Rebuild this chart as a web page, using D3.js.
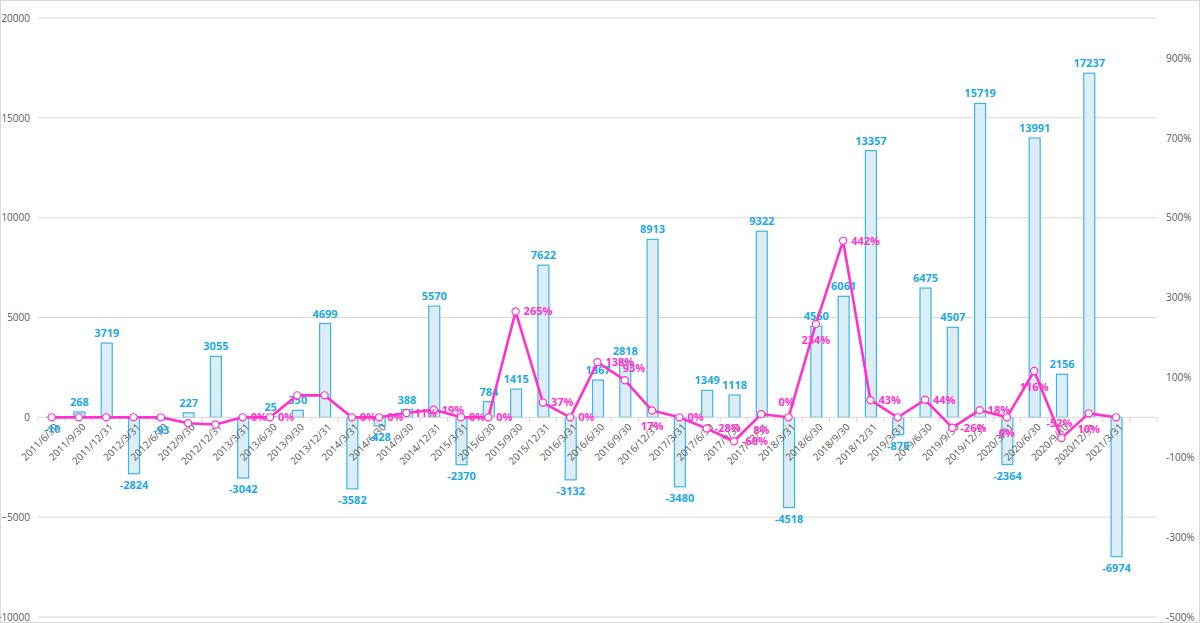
<!DOCTYPE html>
<html><head><meta charset="utf-8">
<script src="https://cdn.jsdelivr.net/npm/d3@7"></script>
<style>html,body{margin:0;padding:0;background:#fff;}svg{display:block;font-family:"Open Sans","Noto Sans",sans-serif;}</style>
</head><body><svg id="c" width="1200" height="623"></svg>
<script>
const categories = ["2011/6/30","2011/9/30","2011/12/31","2012/3/31","2012/6/30","2012/9/30","2012/12/31","2013/3/31","2013/6/30","2013/9/30","2013/12/31","2014/3/31","2014/6/30","2014/9/30","2014/12/31","2015/3/31","2015/6/30","2015/9/30","2015/12/31","2016/3/31","2016/6/30","2016/9/30","2016/12/31","2017/3/31","2017/6/30","2017/9/30","2017/12/31","2018/3/31","2018/6/30","2018/9/30","2018/12/31","2019/3/31","2019/6/30","2019/9/30","2019/12/31","2020/3/31","2020/6/30","2020/9/30","2020/12/31","2021/3/31"];
const barValues = [-10,268,3719,-2824,-93,227,3055,-3042,25,350,4699,-3582,-428,388,5570,-2370,784,1415,7622,-3132,1867,2818,8913,-3480,1349,1118,9322,-4518,4560,6061,13357,-875,6475,4507,15719,-2364,13991,2156,17237,-6974];
const pctValues = [0,0,0,0,0,-15,-18,0,0,55,55,0,0,11,19,0,0,265,37,0,138,93,17,0,-28,-60,8,0,234,442,43,0,44,-26,18,0,116,-52,10,0];
// which percentage labels are shown, and where they sit relative to the point
const pctLabelPos = {7:"r",8:"r",11:"r",12:"r",13:"r",14:"r",15:"r",16:"r",17:"r",18:"r",19:"r",20:"r",21:"ur",22:"b",23:"r",24:"r",25:"r",26:"b",27:"t",28:"b",29:"r",30:"r",32:"r",33:"r",34:"r",35:"b",36:"b",37:"t",38:"b"};
const leftTicks = [-10000,-5000,0,5000,10000,15000,20000];
const rightTicks = [-500,-300,-100,100,300,500,700,900];

const svg = d3.select("#c");
const W = 1200, H = 623;
const plot = {left:38, right:1157, top:18, bottom:617};

svg.append("rect").attr("x",0.5).attr("y",0.5).attr("width",W-1).attr("height",H-1)
  .attr("fill","#fff").attr("stroke","#d9d9d9");

const x = d3.scaleBand().domain(categories.concat(["__pad"])).range([plot.left, plot.right]).padding(0);
const y = d3.scaleLinear().domain([-10000,20000]).range([plot.bottom, plot.top]);
const y2 = d3.scaleLinear().domain([-500,1000]).range([plot.bottom, plot.top]);
const cx = c => x(c) + x.bandwidth()/2;

// gridlines
svg.append("g").selectAll("line").data(leftTicks.filter(t=>t!==0)).join("line")
  .attr("x1",plot.left).attr("x2",plot.right).attr("y1",d=>y(d)).attr("y2",d=>y(d))
  .attr("stroke","#d9d9d9").attr("stroke-width",1);

// left axis
const gl = svg.append("g").attr("transform",`translate(${plot.left},0)`)
  .call(d3.axisLeft(y).tickValues(leftTicks).tickSize(0).tickPadding(8).tickFormat(d3.format("d")));
gl.select(".domain").remove();
gl.selectAll("text").attr("fill","#595959").style("font-size","10px").attr("font-family","'Open Sans',sans-serif");

// right axis
const gr = svg.append("g").attr("transform",`translate(${plot.right},0)`)
  .call(d3.axisRight(y2).tickValues(rightTicks).tickSize(0).tickPadding(9).tickFormat(d=>d+"%"));
gr.select(".domain").remove();
gr.selectAll("text").attr("fill","#595959").style("font-size","10px").attr("font-family","'Open Sans',sans-serif");

// bars
const bw = 11;
svg.append("g").selectAll("rect").data(categories).join("rect")
  .attr("x",(c)=>cx(c)-bw/2+0.5).attr("width",bw)
  .attr("y",(c,i)=>Math.min(y(barValues[i]),y(0)))
  .attr("height",(c,i)=>Math.abs(y(barValues[i])-y(0)))
  .attr("fill","#dcedf5").attr("stroke","#3bb6ea").attr("stroke-width",1.2);

// x axis line and ticks
svg.append("line").attr("x1",plot.left).attr("x2",plot.right).attr("y1",y(0)).attr("y2",y(0)).attr("stroke","#d9d9d9");
svg.append("g").selectAll("line").data(categories.concat(["__pad"])).join("line")
  .attr("x1",c=>x(c)).attr("x2",c=>x(c)).attr("y1",y(0)).attr("y2",y(0)+5).attr("stroke","#d9d9d9");
svg.append("line").attr("x1",plot.right).attr("x2",plot.right).attr("y1",y(0)).attr("y2",y(0)+5).attr("stroke","#d9d9d9");

// x labels
svg.append("g").selectAll("text").data(categories).join("text")
  .attr("transform",c=>`translate(${cx(c)+5},${y(0)+8}) rotate(-45)`)
  .attr("text-anchor","end").attr("dy","0.35em")
  .attr("fill","#595959").style("font-size","10px").text(c=>c);

// bar labels
svg.append("g").selectAll("text").data(categories).join("text")
  .attr("x",c=>cx(c)+0.5)
  .attr("y",(c,i)=>barValues[i]>=0 ? y(barValues[i])-6 : y(barValues[i])+15)
  .attr("text-anchor","middle").attr("fill","#1ea9e6")
  .style("font-size","11px").style("font-weight","bold")
  .text((c,i)=>barValues[i]);

// line
const line = d3.line().x(d=>cx(d.c)).y(d=>y2(d.v));
const pts = categories.map((c,i)=>({c, v:pctValues[i], i}));
svg.append("path").datum(pts).attr("d",line).attr("fill","none")
  .attr("stroke","#ff33cc").attr("stroke-width",2.6).attr("stroke-linejoin","round");
svg.append("g").selectAll("circle").data(pts).join("circle")
  .attr("cx",d=>cx(d.c)).attr("cy",d=>y2(d.v)).attr("r",3.6)
  .attr("fill","#fff").attr("stroke","#ff33cc").attr("stroke-width",1.2);

// pct labels
const offs = {r:[8,0,"start"], ur:[-2,-12,"start"], b:[0,16,"middle"], t:[-2,-15,"middle"]};
svg.append("g").selectAll("text").data(pts.filter(d=>pctLabelPos[d.i])).join("text")
  .attr("x",d=>cx(d.c)+offs[pctLabelPos[d.i]][0])
  .attr("y",d=>y2(d.v)+offs[pctLabelPos[d.i]][1])
  .attr("dy","0.35em").attr("text-anchor",d=>offs[pctLabelPos[d.i]][2])
  .attr("fill","#ff33cc").style("font-size","11px").style("font-weight","bold")
  .text(d=>d.v+"%");
</script></body></html>
